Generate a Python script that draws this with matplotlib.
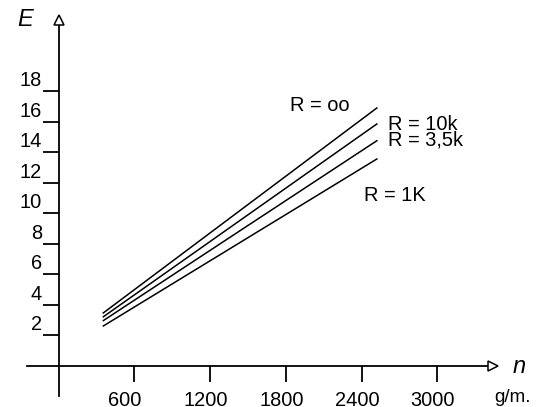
import matplotlib
matplotlib.use("Agg")
import matplotlib.pyplot as plt

plt.rcParams['font.family'] = ['Liberation Sans', 'DejaVu Sans']

# speed n (g/m.) and voltage E for each load resistance
n_vals = [350, 2525]
series_labels = ['R = oo', 'R = 10k', 'R = 3,5k', 'R = 1K']
e_vals = [
    [3.45, 16.95],
    [3.20, 15.90],
    [2.95, 14.80],
    [2.60, 13.60],
]
label_pos = [(1832, 16.72), (2611, 15.48), (2611, 14.44), (2418, 10.84)]

x_ticks = [600, 1200, 1800, 2400, 3000]
y_ticks = [2, 4, 6, 8, 10, 12, 14, 16, 18]

fig = plt.figure(figsize=(5.41, 4.07), dpi=100)
ax = fig.add_axes([0, 0, 1, 1])
ax.set_xlim(-463.1, 3819.4)
ax.set_ylim(-2.689, 24.0)

for ev in e_vals:
    ax.plot(n_vals, ev, color='black', lw=1.1, solid_capstyle='butt')

for lab, (x, y) in zip(series_labels, label_pos):
    ax.text(x, y, lab, fontsize=14.4, ha='left', va='baseline')

# axes through the origin
for s in ['top', 'right']:
    ax.spines[s].set_visible(False)
ax.spines['left'].set_position(('data', 0))
ax.spines['bottom'].set_position(('data', 0))
ax.spines['left'].set_bounds(-1.97, 22.3)
ax.spines['bottom'].set_bounds(-249, 3400)
ax.spines['left'].set_linewidth(1.3)
ax.spines['bottom'].set_linewidth(1.3)

ax.set_xticks(x_ticks)
ax.set_yticks(y_ticks)
ax.tick_params(direction='out', length=11.5, width=1.3,
               labelleft=False, labelbottom=False)

# open arrow heads
ax.plot(0, 22.67, marker='^', ms=7.5, mfc='white', mec='black', mew=1.1,
        clip_on=False, zorder=5)
ax.plot(3440, 0, marker='>', ms=7.5, mfc='white', mec='black', mew=1.1,
        clip_on=False, zorder=5)

for v in y_ticks:
    ax.annotate(str(v), xy=(0, v), xytext=(-16.5, 5), textcoords='offset pixels',
                ha='right', va='baseline', fontsize=14.4)
for v in x_ticks:
    ax.annotate(str(v), xy=(v, 0), xytext=(-26.7, -40), textcoords='offset pixels',
                ha='left', va='baseline', fontsize=14.4)

ax.text(-328, 22.3, 'E', fontsize=17, style='italic', ha='left', va='baseline')
ax.text(3598, -0.46, 'n', fontsize=17, style='italic', ha='left', va='baseline')
ax.text(3447, -2.36, 'g/m.', fontsize=13.5, ha='left', va='baseline')

fig.savefig('out.png', dpi=100)
